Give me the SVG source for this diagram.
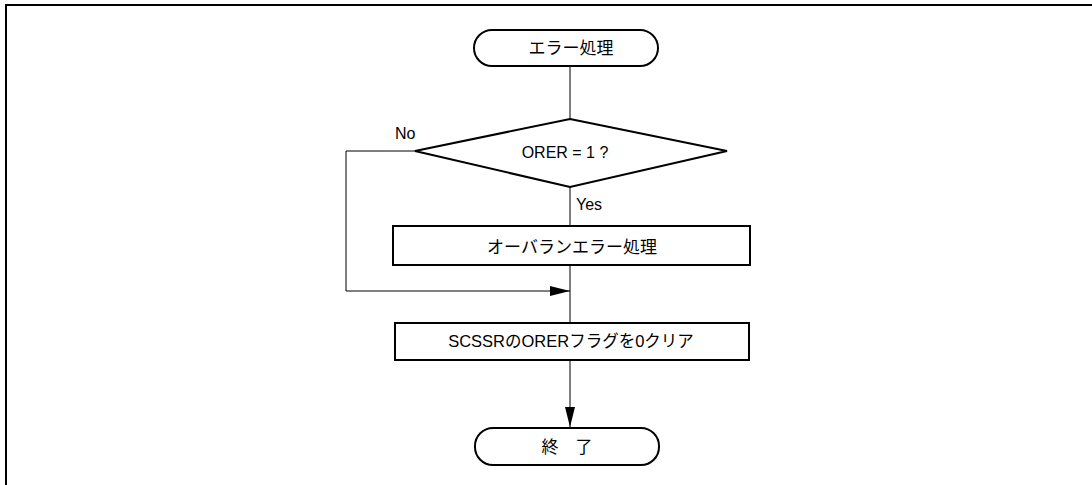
<svg xmlns="http://www.w3.org/2000/svg" width="1092" height="485" viewBox="0 0 1092 485">
<defs>
<style>
.shape{fill:#fff;stroke:#000;stroke-width:2}
.conn{fill:none;stroke:#000;stroke-width:1}
.t{font-family:"Liberation Sans","Noto Sans CJK JP",sans-serif;font-size:17px;fill:#000;text-anchor:middle;dominant-baseline:central}
.m{font-size:16.5px}
.e{font-size:16px}
.l{font-family:"Liberation Sans",sans-serif;font-size:16px;fill:#000}
</style>
<marker id="ah" viewBox="0 0 20 10" refX="20" refY="5" markerWidth="20" markerHeight="10" markerUnits="userSpaceOnUse" orient="auto">
<path d="M0,0 L20,5 L0,10 Z" fill="#000"/>
</marker>
</defs>
<rect width="1092" height="485" fill="#fff"/>
<path d="M6,490 V5 H1097" fill="none" stroke="#000" stroke-width="2"/>
<g id="connectors">
<line class="conn" x1="570" y1="66" x2="570" y2="119"/>
<line class="conn" x1="570" y1="187" x2="570" y2="226"/>
<line class="conn" x1="570" y1="265" x2="570" y2="323"/>
<polyline class="conn" points="415,151 346,151 346,291 570,291" marker-end="url(#ah)"/>
<line class="conn" x1="570" y1="360" x2="570" y2="427" marker-end="url(#ah)"/>
<text class="l" x="395" y="139">No</text>
<text class="l" x="576" y="210">Yes</text>
</g>
<g id="start">
<rect class="shape" x="474" y="30" width="184" height="36" rx="18" ry="18"/>
<text class="t" x="571" y="48">エラー処理</text>
</g>
<g id="decision">
<polygon class="shape" points="570,119 727,151 570,187 415,151"/>
<text class="t e" x="565" y="152">ORER = 1 ?</text>
</g>
<g id="overrun">
<rect class="shape" x="393" y="226" width="357" height="39"/>
<text class="t" x="572" y="247">オーバランエラー処理</text>
</g>
<g id="clear">
<rect class="shape" x="395" y="323" width="354" height="37"/>
<text class="t m" x="571" y="341">SCSSRのORERフラグを0クリア</text>
</g>
<g id="end">
<rect class="shape" x="475" y="428" width="184" height="37" rx="18" ry="18"/>
<text class="t" x="567" y="447">終　了</text>
</g>
</svg>
